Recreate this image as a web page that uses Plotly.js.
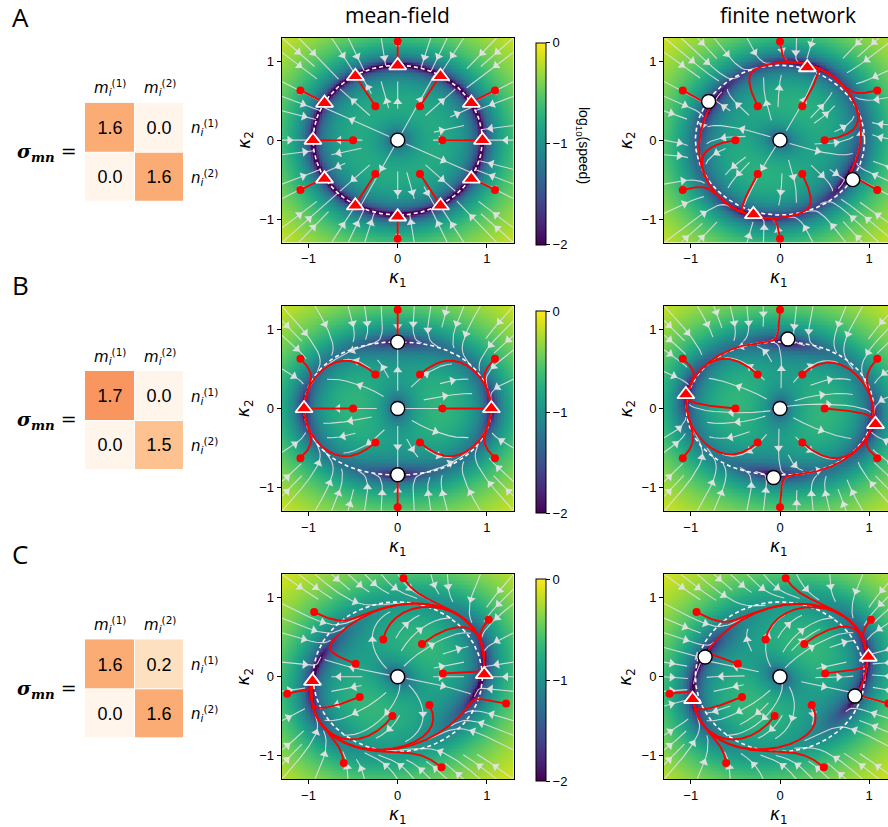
<!DOCTYPE html>
<html><head><meta charset="utf-8">
<script src="https://cdn.plot.ly/plotly-3.0.1.min.js"></script>
<style>html,body{margin:0;padding:0;overflow:hidden;background:#fff}</style>
</head><body><div id="chart" style="width:900px;height:827px"></div>
<script>
// ================= DATA =================
const rowLabels = ['A', 'B', 'C'];
const columnTitles = ['mean-field', 'finite network'];
// overlap matrices sigma_mn (rows n_i^(1), n_i^(2); columns m_i^(1), m_i^(2))
const sigmaA = [[1.6, 0.0], [0.0, 1.6]];
const sigmaB = [[1.7, 0.0], [0.0, 1.5]];
const sigmaC = [[1.6, 0.2], [0.0, 1.6]];
// effective overlaps of the finite network (estimated from the fixed points in the picture)
const sigmaFiniteA = [[1.562, 0.0315], [0.0605, 1.638]];
const sigmaFiniteB = [[1.7, -0.0185], [-0.0395, 1.5]];
const sigmaFiniteC = [[1.604, 0.2045], [0.0155, 1.596]];

// trajectory starting points (kappa1, kappa2)
const startAB_x = [0, 0.25, 1.09, 0.5, 1.09, 0.25, 0, -0.25, -1.09, -0.5, -1.09, -0.25];
const startAB_y = [1.25, 0.43, 0.63, 0, -0.63, -0.43, -1.25, -0.43, -0.63, 0, 0.63, 0.43];
const startC_x = [0.064, -0.936, -0.472, -0.162, 0.272, 1.019, 0.506, 1.215, 0.355, -0.06, -0.426, -1.238, -0.604, 0.491];
const startC_y = [1.248, 0.819, 0.164, 0.471, 0.416, 0.723, 0.042, -0.34, -0.357, -0.496, -0.256, -0.214, -1.092, -1.147];

// fixed points (stable = triangles, unstable = circles)
const mfA_stable_x = [0, 0.48, 0.825, 0.95, 0.825, 0.48, 0, -0.475, -0.82, -0.95, -0.82, -0.475];
const mfA_stable_y = [0.945, 0.81, 0.47, 0, -0.49, -0.83, -0.97, -0.83, -0.49, 0, 0.47, 0.81];
const mfA_unstable_x = [0];
const mfA_unstable_y = [0];
const fnA_stable_x = [0.306, -0.298];
const fnA_stable_y = [0.92, -0.94];
const fnA_unstable_x = [0, -0.8, 0.815];
const fnA_unstable_y = [0, 0.49, -0.5];
const mfB_stable_x = [-1.05, 1.05];
const mfB_stable_y = [0, 0];
const mfB_unstable_x = [0, 0, 0];
const mfB_unstable_y = [0, 0.84, -0.84];
const fnB_stable_x = [-1.055, 1.07];
const fnB_stable_y = [0.177, -0.2];
const fnB_unstable_x = [0, 0.088, -0.072];
const fnB_unstable_y = [0, 0.88, -0.875];
const mfC_stable_x = [-0.955, 0.97];
const mfC_stable_y = [-0.055, 0.03];
const mfC_unstable_x = [0];
const mfC_unstable_y = [0];
const fnC_stable_x = [0.99, -0.98];
const fnC_stable_y = [0.25, -0.285];
const fnC_unstable_x = [0, -0.84, 0.84];
const fnC_unstable_y = [0, 0.25, -0.244];

const axisTickVals = [-1, 0, 1];
const axisTickText = ['\u22121', '0', '1'];
const cbTickVals = [-2, -1, 0];
const cbTickText = ['\u22122', '\u22121', '0'];

// ================= MODEL =================
const KMIN = -1.3, KMAX = 1.3, KW = KMAX - KMIN;
// gain <phi'> averaged over Gaussian with variance Delta (tanh network)
const GT_N = 4001, GT_MAX = 8;
const gtab = new Float64Array(GT_N);
(function () {
  const dz = 0.02, c = 1 / Math.sqrt(2 * Math.PI);
  for (let i = 0; i < GT_N; i++) {
    const sd = Math.sqrt(i * GT_MAX / (GT_N - 1));
    let s = 0;
    for (let z = -6; z <= 6; z += dz) {
      const t = Math.tanh(sd * z);
      s += c * Math.exp(-z * z / 2) * (1 - t * t) * dz;
    }
    gtab[i] = s;
  }
})();
function gain(D) {
  const p = Math.min(D, GT_MAX) / GT_MAX * (GT_N - 1);
  const i = Math.min(Math.floor(p), GT_N - 2), f = p - i;
  return gtab[i] * (1 - f) + gtab[i + 1] * f;
}
function field(S) {
  return (x, y) => {
    const g = gain(x * x + y * y);
    return [-x + g * (S[0][0] * x + S[0][1] * y), -y + g * (S[1][0] * x + S[1][1] * y)];
  };
}

const NG = 150;
const grid = Array.from({length: NG}, (_, i) => KMIN + (i + 0.5) * KW / NG);
function speedMap(S) {
  const f = field(S);
  return grid.map(y => grid.map(x => {
    const [u, v] = f(x, y); const s = Math.hypot(u, v);
    return s > 0 ? Math.log10(s) : -3;
  }));
}

function trajectory(f, x0, y0) {
  let x = x0, y = y0; const xs = [x], ys = [y]; const dt = 0.1;
  for (let k = 0; k < 3000; k++) {
    const a = f(x, y), b = f(x + dt / 2 * a[0], y + dt / 2 * a[1]);
    const c = f(x + dt / 2 * b[0], y + dt / 2 * b[1]), d = f(x + dt * c[0], y + dt * c[1]);
    x += dt / 6 * (a[0] + 2 * b[0] + 2 * c[0] + d[0]);
    y += dt / 6 * (a[1] + 2 * b[1] + 2 * c[1] + d[1]);
    if (Math.hypot(x - xs[xs.length - 1], y - ys[ys.length - 1]) > 0.003) { xs.push(x); ys.push(y); }
  }
  xs.push(x); ys.push(y);
  return [xs, ys];
}

function ringCurve(S) {
  const xs = [], ys = [];
  for (let k = 0; k <= 360; k++) {
    const th = k * Math.PI / 180, c = Math.cos(th), s = Math.sin(th);
    const eff = S[0][0] * c * c + S[1][1] * s * s;
    const target = 1 / eff;
    let lo = 0, hi = GT_MAX;
    for (let it = 0; it < 50; it++) { const m = (lo + hi) / 2; if (gain(m) > target) lo = m; else hi = m; }
    const r = Math.sqrt((lo + hi) / 2);
    xs.push(r * c); ys.push(r * s);
  }
  return [xs, ys];
}

// matplotlib-like streamplot
function streamplot(f, density, pxW, pxH) {
  const nm = Math.floor(30 * density);
  const mask = new Uint8Array(nm * nm);
  const maxds = Math.min(1 / nm, 0.1), maxerr = 0.003, maxlength = 4.0, minlength = 0.1;
  let traj = [], cur = [0, 0];
  const toM = a => Math.floor(a * (nm - 1) + 0.5);
  const inside = (a, b) => a >= 0 && a <= 1 && b >= 0 && b <= 1;
  function dir(ax, ay, sg) {
    const [u, v] = f(KMIN + ax * KW, KMIN + ay * KW);
    const ua = u / KW, va = v / KW, sp = Math.hypot(ua, va);
    if (!(sp > 0)) return null;
    return [sg * ua / sp, sg * va / sp];
  }
  function rk12(x0, y0, sg) {
    let ds = maxds, stotal = 0, xi = x0, yi = y0; const pts = [];
    for (let it = 0; it < 4000; it++) {
      if (!inside(xi, yi)) break;
      pts.push([xi, yi]);
      const k1 = dir(xi, yi, sg); if (!k1) break;
      const xt = xi + ds * k1[0], yt = yi + ds * k1[1];
      if (!inside(xt, yt)) {
        let dsx = k1[0] === 0 ? Infinity : (k1[0] < 0 ? xi / -k1[0] : (1 - xi) / k1[0]);
        let dsy = k1[1] === 0 ? Infinity : (k1[1] < 0 ? yi / -k1[1] : (1 - yi) / k1[1]);
        const d = Math.min(dsx, dsy);
        pts.push([xi + k1[0] * d, yi + k1[1] * d]); stotal += d; break;
      }
      const k2 = dir(xt, yt, sg); if (!k2) break;
      const dx1 = ds * k1[0], dy1 = ds * k1[1];
      const dx2 = ds * 0.5 * (k1[0] + k2[0]), dy2 = ds * 0.5 * (k1[1] + k2[1]);
      const err = Math.hypot(dx2 - dx1, dy2 - dy1);
      if (err < maxerr) {
        xi += dx2; yi += dy2;
        if (!inside(xi, yi)) break;
        const xm = toM(xi), ym = toM(yi);
        if (!(xm === cur[0] && ym === cur[1])) {
          if (mask[ym * nm + xm] === 0) { mask[ym * nm + xm] = 1; traj.push(ym * nm + xm); cur = [xm, ym]; }
          else break;
        }
        if (stotal + ds > maxlength) break;
        stotal += ds;
      }
      ds = err === 0 ? maxds : Math.min(maxds, 0.85 * ds * Math.sqrt(maxerr / err));
    }
    return [stotal, pts];
  }
  function integrate(x0, y0) {
    const xm = toM(x0), ym = toM(y0);
    if (mask[ym * nm + xm] !== 0) return null;
    traj = [ym * nm + xm]; mask[ym * nm + xm] = 1; cur = [xm, ym];
    const [s1, p1] = rk12(x0, y0, -1);
    cur = [xm, ym];
    const [s2, p2] = rk12(x0, y0, 1);
    if (s1 + s2 > minlength) return p1.reverse().concat(p2.slice(1));
    for (const i of traj) mask[i] = 0;
    return null;
  }
  const starts = [];
  let xf = 0, yf = 1, xl = nm - 1, yl = nm - 1, x = 0, y = 0, d = 'right';
  for (let i = 0; i < nm * nm; i++) {
    starts.push([x, y]);
    if (d === 'right') { x++; if (x >= xl) { xl--; d = 'up'; } }
    else if (d === 'up') { y++; if (y >= yl) { yl--; d = 'left'; } }
    else if (d === 'left') { x--; if (x <= xf) { xf++; d = 'down'; } }
    else { y--; if (y <= yf) { yf++; d = 'right'; } }
  }
  const lx = [], ly = [], ax = [], ay = [], aang = [];
  for (const [sx, sy] of starts) {
    if (sx < 0 || sy < 0 || sx >= nm || sy >= nm) continue;
    if (mask[sy * nm + sx] !== 0) continue;
    const t = integrate(sx / (nm - 1), sy / (nm - 1));
    if (!t || t.length < 2) continue;
    const pts = [t[0]];
    for (let i = 1; i < t.length; i++) {
      const q = pts[pts.length - 1];
      if (Math.hypot(t[i][0] - q[0], t[i][1] - q[1]) > 1e-4) pts.push(t[i]);
    }
    if (pts.length < 2) continue;
    for (const p of pts) { lx.push(KMIN + p[0] * KW); ly.push(KMIN + p[1] * KW); }
    lx.push(null); ly.push(null);
    const s = []; let acc = 0;
    for (let i = 1; i < pts.length; i++) { acc += Math.hypot(pts[i][0] - pts[i - 1][0], pts[i][1] - pts[i - 1][1]); s.push(acc); }
    let n = 0; while (n < s.length - 1 && s[n] < acc / 2) n++;
    const p0 = pts[n], p1 = pts[Math.min(n + 1, pts.length - 1)];
    const mx = (p0[0] + p1[0]) / 2, my = (p0[1] + p1[1]) / 2;
    ax.push(KMIN + mx * KW); ay.push(KMIN + my * KW);
    aang.push(Math.atan2((p1[0] - p0[0]) * pxW, (p1[1] - p0[1]) * pxH) * 180 / Math.PI);
  }
  return {lx, ly, ax, ay, aang};
}

// ================= LAYOUT GEOMETRY =================
const FW = 900, FH = 827;
const pxX = v => v / FW, pxY = v => 1 - v / FH;
const rowTop = [37.5, 305.8, 574.1], plotH = 205.3;
const mfL = 281.7, mfR = 513.7, fnL = 664, fnR = 896;
const matL = 85, matR = 184, matTop = [102.7, 371, 639.3], matH = 99;
const rowSigma = [sigmaA, sigmaB, sigmaC];
const rowFinite = [sigmaFiniteA, sigmaFiniteB, sigmaFiniteC];
const rowStarts = [[startAB_x, startAB_y], [startAB_x, startAB_y], [startC_x, startC_y]];
const mfFixed = [[mfA_stable_x, mfA_stable_y, mfA_unstable_x, mfA_unstable_y],
                 [mfB_stable_x, mfB_stable_y, mfB_unstable_x, mfB_unstable_y],
                 [mfC_stable_x, mfC_stable_y, mfC_unstable_x, mfC_unstable_y]];
const fnFixed = [[fnA_stable_x, fnA_stable_y, fnA_unstable_x, fnA_unstable_y],
                 [fnB_stable_x, fnB_stable_y, fnB_unstable_x, fnB_unstable_y],
                 [fnC_stable_x, fnC_stable_y, fnC_unstable_x, fnC_unstable_y]];

const TICKFONT = {family: 'Liberation Sans, Arial, sans-serif', size: 13, color: '#000'};
const traces = [], annotations = [], layout = {};

function panelAxes(idx, l, r, top) {
  layout['xaxis' + idx] = {domain: [pxX(l), pxX(r)], range: [KMIN, KMAX], anchor: 'y' + idx,
    tickvals: axisTickVals, ticktext: axisTickText, ticks: 'outside', ticklen: 4, tickcolor: '#000',
    showline: true, linecolor: '#000', linewidth: 1, mirror: true, showgrid: false, zeroline: false,
    tickfont: TICKFONT, fixedrange: true};
  layout['yaxis' + idx] = {domain: [pxY(top + plotH), pxY(top)], range: [KMIN, KMAX], anchor: 'x' + idx,
    tickvals: axisTickVals, ticktext: axisTickText, ticks: 'outside', ticklen: 4, tickcolor: '#000',
    showline: true, linecolor: '#000', linewidth: 1, mirror: true, showgrid: false, zeroline: false,
    tickfont: TICKFONT, fixedrange: true};
}

function panel(idx, S, ringS, starts, fixed, r, showScale) {
  const xa = 'x' + idx, ya = 'y' + idx;
  const f = field(S);
  const hm = {type: 'heatmap', x: grid, y: grid, z: speedMap(S), colorscale: 'Viridis', zmin: -2, zmax: 0,
    xaxis: xa, yaxis: ya, hoverinfo: 'skip', showscale: showScale, zsmooth: false};
  if (showScale) {
    hm.colorbar = {x: pxX(535.5), xanchor: 'left', xpad: 0, thickness: 10, lenmode: 'pixels', len: 201.5,
      y: pxY(rowTop[r] + 106.3), yanchor: 'middle', ypad: 0, tickvals: cbTickVals, ticktext: cbTickText,
      ticks: 'outside', ticklen: 4, tickcolor: '#000', tickfont: TICKFONT, outlinewidth: 1, outlinecolor: '#000'};
  }
  traces.push(hm);
  const sp = streamplot(f, 0.5, 232 / KW, plotH / KW);
  traces.push({type: 'scatter', mode: 'lines', x: sp.lx, y: sp.ly, xaxis: xa, yaxis: ya,
    line: {color: 'rgba(225,225,225,0.9)', width: 1.1}, hoverinfo: 'skip'});
  traces.push({type: 'scatter', mode: 'markers', x: sp.ax, y: sp.ay, xaxis: xa, yaxis: ya,
    marker: {symbol: 'triangle-up', size: 8, color: 'rgba(225,225,225,0.95)', angle: sp.aang, line: {width: 0}}, hoverinfo: 'skip'});
  const ring = ringCurve(ringS);
  traces.push({type: 'scatter', mode: 'lines', x: ring[0], y: ring[1], xaxis: xa, yaxis: ya,
    line: {color: '#ffffff', width: 1.6, dash: '4px,3px'}, hoverinfo: 'skip'});
  const tx = [], ty = [];
  for (let i = 0; i < starts[0].length; i++) {
    const [xs, ys] = trajectory(f, starts[0][i], starts[1][i]);
    tx.push(...xs, null); ty.push(...ys, null);
  }
  traces.push({type: 'scatter', mode: 'lines', x: tx, y: ty, xaxis: xa, yaxis: ya,
    line: {color: '#ff0000', width: 1.9}, hoverinfo: 'skip'});
  traces.push({type: 'scatter', mode: 'markers', x: starts[0], y: starts[1], xaxis: xa, yaxis: ya,
    marker: {size: 8, color: '#ff0000'}, hoverinfo: 'skip'});
  traces.push({type: 'scatter', mode: 'markers', x: fixed[2], y: fixed[3], xaxis: xa, yaxis: ya,
    marker: {size: 14, color: '#ffffff', line: {color: '#000', width: 1.4}}, hoverinfo: 'skip'});
  traces.push({type: 'scatter', mode: 'markers', x: fixed[0], y: fixed[1], xaxis: xa, yaxis: ya,
    marker: {symbol: 'triangle-up', size: 15, color: '#ff0000', line: {color: '#ffffff', width: 1.8}}, hoverinfo: 'skip'});
}

function kappaLabels(cx, top) {
  annotations.push({xref: 'paper', yref: 'paper', x: pxX(cx), y: pxY(top + plotH + 36), text: '<i>κ</i><sub>1</sub>',
    showarrow: false, xanchor: 'center', yanchor: 'middle', font: {family: 'DejaVu Sans', size: 17, color: '#000'}});
}

for (let r = 0; r < 3; r++) {
  const mi = 1 + r;
  layout['xaxis' + mi] = {domain: [pxX(matL), pxX(matR)], visible: false, range: [-0.5, 1.5], anchor: 'y' + mi, fixedrange: true};
  layout['yaxis' + mi] = {domain: [pxY(matTop[r] + matH), pxY(matTop[r])], visible: false, range: [1.5, -0.5], anchor: 'x' + mi, fixedrange: true};
  traces.push({type: 'heatmap', z: rowSigma[r], x: [0, 1], y: [0, 1], xaxis: 'x' + mi, yaxis: 'y' + mi,
    zmin: 0, zmax: 1.7, showscale: false, xgap: 1, ygap: 1, hoverinfo: 'skip',
    colorscale: [[0, '#fff5eb'], [0.1176, '#fde0bf'], [0.8824, '#fdc28f'], [0.9412, '#fbab74'], [1, '#f9955f']],
    texttemplate: '%{z:.1f}', textfont: {family: 'Liberation Sans, Arial, sans-serif', size: 18, color: '#000'}});
  panelAxes(4 + r, mfL, mfR, rowTop[r]);
  panelAxes(7 + r, fnL, fnR, rowTop[r]);
  const diagRing = rowSigma[r];
  panel(4 + r, rowSigma[r], diagRing, rowStarts[r], mfFixed[r], r, true);
  panel(7 + r, rowFinite[r], diagRing, rowStarts[r], fnFixed[r], r, false);

  annotations.push({xref: 'paper', yref: 'paper', x: pxX(20), y: pxY(rowTop[r] - 20.5), text: rowLabels[r],
    showarrow: false, xanchor: 'center', yanchor: 'middle', font: {family: 'Open Sans', size: 26, color: '#000'}});
  annotations.push({xref: 'paper', yref: 'paper', x: pxX(79), y: pxY(matTop[r] + 50), text: '<b><i>σ</i></b><sub><b><i>mn</i></b></sub> =',
    showarrow: false, xanchor: 'right', yanchor: 'middle', font: {family: 'DejaVu Serif', size: 19, color: '#000'}});
  ['1', '2'].forEach((k, j) => {
    annotations.push({xref: 'paper', yref: 'paper', x: pxX(110 + 49.5 * j), y: pxY(matTop[r] - 15), text: '<i>m</i><sub><i>i</i></sub><sup>(' + k + ')</sup>',
      showarrow: false, xanchor: 'center', yanchor: 'middle', font: {family: 'DejaVu Sans', size: 15, color: '#000'}});
    annotations.push({xref: 'paper', yref: 'paper', x: pxX(189), y: pxY(matTop[r] + 25 + 49.5 * j), text: '<i>n</i><sub><i>i</i></sub><sup>(' + k + ')</sup>',
      showarrow: false, xanchor: 'left', yanchor: 'middle', font: {family: 'DejaVu Sans', size: 15, color: '#000'}});
  });
  kappaLabels((mfL + mfR) / 2, rowTop[r]);
  kappaLabels(779, rowTop[r]);
  [mfL, fnL].forEach(l => {
    annotations.push({xref: 'paper', yref: 'paper', x: pxX(l - 37), y: pxY(rowTop[r] + plotH / 2), text: '<i>κ</i><sub>2</sub>', textangle: -90,
      showarrow: false, xanchor: 'center', yanchor: 'middle', font: {family: 'DejaVu Sans', size: 17, color: '#000'}});
  });
}
annotations.push({xref: 'paper', yref: 'paper', x: pxX(397.7), y: pxY(15), text: columnTitles[0], showarrow: false,
  xanchor: 'center', yanchor: 'middle', font: {family: 'Open Sans', size: 21, color: '#000'}});
annotations.push({xref: 'paper', yref: 'paper', x: pxX(787.5), y: pxY(15), text: columnTitles[1], showarrow: false,
  xanchor: 'center', yanchor: 'middle', font: {family: 'Open Sans', size: 21, color: '#000'}});
annotations.push({xref: 'paper', yref: 'paper', x: pxX(583), y: pxY(145), text: 'log<sub>10</sub>(speed)', textangle: 90, showarrow: false,
  xanchor: 'center', yanchor: 'middle', font: {family: 'Liberation Sans, Arial, sans-serif', size: 14, color: '#000'}});

Object.assign(layout, {width: FW, height: FH, margin: {l: 0, r: 0, t: 0, b: 0}, paper_bgcolor: '#ffffff',
  plot_bgcolor: 'rgba(0,0,0,0)', showlegend: false, annotations,
  font: {family: 'Liberation Sans, Arial, sans-serif', color: '#000'}});
Plotly.newPlot('chart', traces, layout, {displayModeBar: false, staticPlot: true});
</script></body></html>
